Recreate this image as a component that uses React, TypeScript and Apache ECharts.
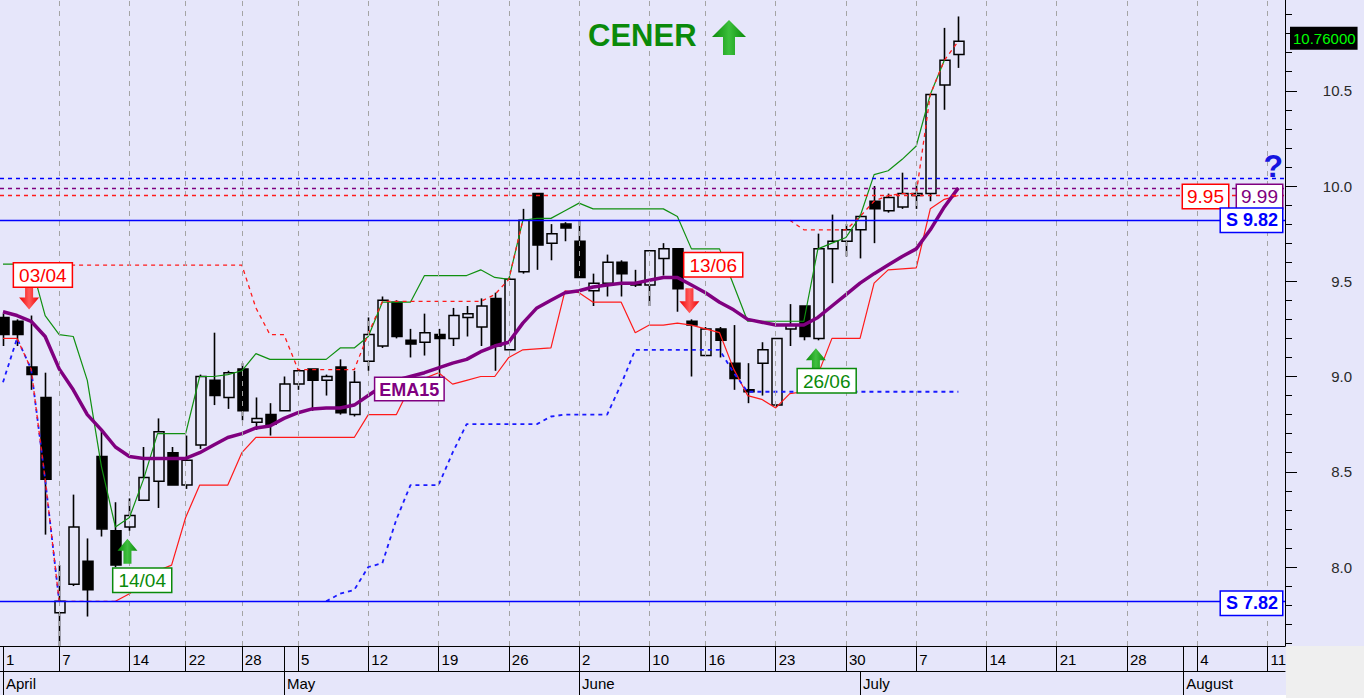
import React, { useEffect, useRef } from 'react';
import * as echarts from 'echarts';

// ---- Daily candles (trading-day index 0 = 1 April) ----
const OPEN = [9.31,9.29,9.05,8.89,7.76,7.91,8.03,8.58,8.19,8.21, 8.35,8.45,8.60,8.43,8.64,8.98,8.89,9.04,8.76,8.80, 8.82,8.96,9.04,8.98,9.05,8.80,9.08,9.16,9.39,9.19, 9.18,9.22,9.20,9.31,9.26,9.41,9.14,9.55,9.96,9.70, 9.80,9.71,9.45,9.49,9.60,9.49,9.48,9.62,9.67,9.29, 9.11,9.25,9.07,8.93,9.07,8.85,9.25,9.37,9.20,9.67, 9.71,9.77,9.92,9.87,9.89,9.95,9.96,10.53,10.69];
const CLOSE = [9.22,9.22,9.01,8.46,7.82,8.21,7.88,8.20,8.01,8.27, 8.47,8.71,8.43,8.56,9.00,8.90,9.02,8.82,8.78,8.75, 8.96,9.03,8.98,9.00,8.81,8.97,9.22,9.40,9.21,9.17, 9.23,9.20,9.32,9.33,9.37,9.16,9.51,9.82,9.69,9.75, 9.78,9.52,9.49,9.60,9.54,9.48,9.66,9.67,9.46,9.27, 9.25,9.19,8.99,8.92,9.14,9.20,9.27,9.21,9.67,9.71, 9.77,9.84,9.88,9.94,9.96,9.96,10.48,10.66,10.76];
const LOW = [9.16,9.16,8.93,8.17,7.58,7.90,7.74,8.16,8.00,8.19, 8.35,8.31,8.43,8.41,8.62,8.85,8.83,8.77,8.72,8.69, 8.82,8.93,8.82,8.90,8.80,8.79,9.03,9.15,9.20,9.10, 9.11,8.98,9.16,9.21,9.16,9.03,9.14,9.54,9.56,9.61, 9.71,9.52,9.37,9.42,9.42,9.47,9.37,9.53,9.34,9.00, 9.11,9.10,8.93,8.86,8.90,8.84,9.16,9.19,9.19,9.49, 9.63,9.62,9.70,9.86,9.88,9.88,9.92,10.40,10.62];
const HIGH = [9.33,9.30,9.32,9.02,8.01,8.38,8.15,8.71,8.34,8.36, 8.63,8.78,8.63,8.69,9.01,9.23,9.03,9.07,8.89,8.86, 9.00,9.04,9.04,9.01,9.09,9.03,9.31,9.42,9.40,9.25, 9.33,9.25,9.36,9.37,9.41,9.44,9.52,9.88,9.96,9.80, 9.81,9.82,9.54,9.64,9.61,9.56,9.66,9.70,9.67,9.30, 9.26,9.26,9.27,9.07,9.18,9.20,9.38,9.37,9.75,9.85, 9.80,9.85,10.00,9.96,10.07,10.02,10.48,10.83,10.89];

// ---- Indicators (segments: start index + values) ----
const EMA15 = [9.34,9.32,9.29,9.21,9.04,8.93,8.80,8.72,8.63,8.58, 8.57,8.57,8.57,8.57,8.60,8.64,8.68,8.70,8.73,8.74, 8.78,8.81,8.83,8.835,8.835,8.85,8.90,8.95,8.98,9.00, 9.02,9.045,9.07,9.09,9.13,9.16,9.18,9.28,9.36,9.40, 9.44,9.45,9.47,9.48,9.49,9.49,9.505,9.52,9.52,9.48, 9.44,9.39,9.35,9.30,9.285,9.27,9.27,9.27,9.31,9.37, 9.43,9.49,9.54,9.585,9.63,9.67,9.77,9.89,9.99];
const GREEN_START = 0;
const GREEN = [9.59,9.59,9.59,9.32,9.22,9.21,8.98,8.53,8.21,8.26, 8.46,8.70,8.70,8.70,9.00,9.00,9.01,9.03,9.12,9.09, 9.09,9.09,9.09,9.09,9.15,9.15,9.21,9.39,9.39,9.39, 9.53,9.53,9.53,9.53,9.56,9.52,9.51,9.82,9.83,9.83, 9.87,9.91,9.88,9.88,9.88,9.88,9.88,9.88,9.84,9.67, 9.67,9.67,9.48,9.29,9.29,9.29,9.29,9.29,9.67,9.70, 9.73,9.84,10.06,10.08,10.14,10.21,10.48,10.66];
const RED_A_START = 0;
const RED_A = [9.20,9.20];
const RED_B_START = 8;
const RED_B = [7.82,7.86, 7.92,7.98,8.01,8.26,8.43,8.43,8.43,8.60,8.68,8.68, 8.68,8.68,8.68,8.68,8.68,8.68,8.80,8.80,8.80,8.95, 8.99,9.02,8.96,8.98,9.00,9.00,9.10,9.14,9.145,9.15, 9.45,9.44,9.39,9.39,9.39,9.23,9.27,9.27,9.28,9.27, 9.25,9.23,9.04,8.90,8.88,8.835,8.91,8.92,9.01,9.20, 9.20,9.20,9.49,9.56,9.565,9.57,9.88,9.93,9.95];
const STOP_HIGH_START = 2;
const STOP_HIGH = [9.585,9.585,9.585,9.585,9.585,9.585,9.585,9.585,9.585,9.585,9.585,9.585,9.585,9.585,9.585,9.585, 9.36,9.22,9.22,9.036,9.036,9.036,9.036,9.036,9.224, 9.394,9.394,9.394,9.394,9.394,9.394,9.394,9.394,9.43,9.51,9.82];
const STOP_DROP_START = 1;
const STOP_DROP = [9.20,9.04,8.46,7.82,7.82,7.82,7.82,7.82];
const STOP_LATE_START = 56;
const STOP_LATE = [9.82,9.77,9.77,9.77,9.77,9.84,9.92,9.95,9.96,9.96,10.48,10.66,10.76];
const BLUE_A_START = 0;
const BLUE_A = [8.97,9.20,9.04,8.46,7.82];
const BLUE_B_START = 23;
const BLUE_B = [7.82,7.86,7.88,8.00,8.02,8.25,8.43,8.43,8.43,8.60,8.75,8.75,8.75,8.75,8.75,8.75, 8.79,8.80,8.80,8.80,8.80,8.96,9.14,9.14,9.14,9.14,9.14,9.14,9.14,9.02,8.92, 8.92,8.92,8.92,8.92,8.92,8.92,8.92,8.92,8.92,8.92,8.92,8.92,8.92,8.92,8.92];

// ---- Horizontal levels ----
const LEVEL_TOP = 10.04;
const LEVEL_PURPLE = 9.99;
const LEVEL_RED = 9.95;
const SUPPORT_HIGH = 9.82;
const SUPPORT_LOW = 7.82;
const LAST_PRICE = 10.76;

// ---- Signals ----
const SIGNAL_IDX = [2, 9, 49, 58];
const SIGNAL_TEXT = ['03/04', '14/04', '13/06', '26/06'];
const SIGNAL_DIR = ['down', 'up', 'down', 'up'];

// ---- Axis ticks / labels ----
const WEEK_TICKS = [0,4,9,13,17,21,26,31,36,41,46,50,55,60,65,70,75,80,85,90];
const WEEK_LABELS = ['1','7','14','22','28','5','12','19','26','2','10','16','23','30','7','14','21','28','4','11'];
const EXTRA_ROW1_TICKS = [20, 84];
const MONTH_TICKS = [0, 20, 41, 61, 84];
const MONTH_LABELS = ['April', 'May', 'June', 'July', 'August'];
const PRICE_TICKS = [8.0, 8.5, 9.0, 9.5, 10.0, 10.5, 11.0];

const X_MIN = -0.2135, X_MAX = 91.246;
const Y_MIN = 7.5853, Y_MAX = 10.9764;
const FONT = "'Liberation Sans', Arial, Helvetica, sans-serif";

const RED = '#ff1a1a';
const GREEN_C = '#109010';
const PURPLE = '#800080';
const BLUE = '#0000ff';

function seg(start: number, vals: number[]) {
  return vals.map((v, k) => [start + k, v]);
}

function lineS(data: number[][], color: string, width: number, type: any, z: number) {
  return {
    type: 'line', data, symbol: 'none', showSymbol: false, silent: true, z,
    lineStyle: { color, width, type }, clip: true,
  };
}

export default function App() {
  const ref = useRef<HTMLDivElement>(null);
  useEffect(() => {
    document.body.style.margin = '0';
    const chart = echarts.init(ref.current as HTMLDivElement, null, { renderer: 'svg' });
    const weekMap: Record<number, string> = {};
    WEEK_TICKS.forEach((t, k) => { weekMap[t] = WEEK_LABELS[k]; });
    const monthMap: Record<number, string> = {};
    MONTH_TICKS.forEach((t, k) => { monthMap[t] = MONTH_LABELS[k]; });
    const minorTicks: number[] = [];
    for (let k = 76; k <= 109; k++) { if (k % 5 !== 0) minorTicks.push(k / 10); }

    const option: any = {
      animation: false,
      backgroundColor: '#e6e6fa',
      grid: { left: 0, right: 79, top: 0, bottom: 52, containLabel: false },
      xAxis: [
        {
          type: 'value', min: X_MIN, max: X_MAX, position: 'bottom',
          axisLine: { show: true, onZero: false, lineStyle: { color: '#000', width: 1 } },
          axisTick: { show: true, customValues: [...WEEK_TICKS, ...EXTRA_ROW1_TICKS], length: 25, lineStyle: { color: '#000', width: 1 } },
          axisLabel: { show: true, customValues: WEEK_TICKS, formatter: (v: number) => weekMap[Math.round(v)] ?? '', align: 'left', margin: 6, padding: [0, 0, 0, 3], color: '#000', fontSize: 15, fontFamily: FONT },
          splitLine: { show: false },
        },
        {
          type: 'value', min: X_MIN, max: X_MAX, position: 'bottom', offset: 25,
          axisLine: { show: true, onZero: false, lineStyle: { color: '#000', width: 1 } },
          axisTick: { show: true, customValues: MONTH_TICKS, length: 24, lineStyle: { color: '#000', width: 1 } },
          axisLabel: { show: true, customValues: MONTH_TICKS, formatter: (v: number) => monthMap[Math.round(v)] ?? '', align: 'left', margin: 5, padding: [0, 0, 0, 3], color: '#000', fontSize: 15, fontFamily: FONT },
          splitLine: { show: false },
        },
      ],
      yAxis: [
        {
          type: 'value', min: Y_MIN, max: Y_MAX, position: 'right',
          axisLine: { show: true, onZero: false, lineStyle: { color: '#000', width: 1 } },
          axisTick: { show: true, customValues: PRICE_TICKS, length: 12, lineStyle: { color: '#000', width: 1 } },
          axisLabel: { show: true, customValues: PRICE_TICKS, formatter: (v: number) => v.toFixed(1), align: 'right', margin: 67, color: '#2a2a2a', fontSize: 15, fontFamily: FONT },
          splitLine: { show: false },
        },
        {
          type: 'value', min: Y_MIN, max: Y_MAX, position: 'right',
          axisLine: { show: false, onZero: false },
          axisTick: { show: true, customValues: minorTicks, length: 7, lineStyle: { color: '#000', width: 1 } },
          axisLabel: { show: false },
          splitLine: { show: false },
        },
      ],
      series: [
        {
          type: 'line', data: [[0, 9]], symbol: 'none', silent: true, z: 1,
          lineStyle: { opacity: 0 },
          markLine: {
            silent: true, symbol: 'none', animation: false, label: { show: false },
            lineStyle: { color: '#a4a4a4', type: [5, 5], width: 1 },
            data: WEEK_TICKS.filter((t) => t > 0).map((t) => ({ xAxis: t })),
          },
        },
        {
          type: 'custom', z: 2, clip: true, silent: true,
          data: OPEN.map((o, i) => [i, o, CLOSE[i], LOW[i], HIGH[i]]),
          encode: { x: 0, y: [1, 2, 3, 4] },
          renderItem: (params: any, api: any) => {
            const i = api.value(0);
            const o = api.value(1), c = api.value(2), l = api.value(3), h = api.value(4);
            const pO = api.coord([i, o]);
            const pC = api.coord([i, c]);
            const pL = api.coord([i, l]);
            const pH = api.coord([i, h]);
            const bw = Math.round(api.size([1, 0])[0] * 0.72);
            const x = Math.round(pO[0]) + 0.5;
            const top = Math.min(pO[1], pC[1]);
            const bot = Math.max(pO[1], pC[1]);
            const bodyH = Math.max(bot - top, 1.5);
            const up = c >= o;
            return {
              type: 'group',
              children: [
                { type: 'line', shape: { x1: x, y1: pH[1], x2: x, y2: top }, style: { stroke: '#000', lineWidth: 1.6 } },
                { type: 'line', shape: { x1: x, y1: bot, x2: x, y2: pL[1] }, style: { stroke: '#000', lineWidth: 1.6 } },
                { type: 'rect', shape: { x: Math.round(x - bw / 2), y: top, width: bw, height: bodyH }, style: { fill: up ? 'rgba(0,0,0,0)' : '#000', stroke: '#000', lineWidth: 1.5 } },
              ],
            };
          },
        },
        lineS(seg(GREEN_START, GREEN), GREEN_C, 1.2, 'solid', 3),
        lineS(seg(RED_A_START, RED_A), RED, 1.2, 'solid', 3),
        lineS(seg(RED_B_START, RED_B), RED, 1.2, 'solid', 3),
        lineS(seg(BLUE_A_START, BLUE_A), '#1a1aff', 1.8, [4, 4], 3),
        lineS(seg(BLUE_B_START, BLUE_B), '#1a1aff', 1.8, [4, 4], 3),
        lineS(seg(STOP_HIGH_START, STOP_HIGH), RED, 1.3, [4, 4], 3),
        lineS(seg(STOP_DROP_START, STOP_DROP), RED, 1.3, [4, 4], 3),
        lineS(seg(STOP_LATE_START, STOP_LATE), RED, 1.3, [4, 4], 3),
        {
          ...lineS(seg(0, EMA15), PURPLE, 3.5, 'solid', 4),
          markLine: {
            silent: true, symbol: 'none', animation: false, label: { show: false },
            data: [
              { yAxis: LEVEL_TOP, lineStyle: { color: BLUE, type: [4, 4], width: 1.3 } },
              { yAxis: LEVEL_PURPLE, lineStyle: { color: PURPLE, type: [4, 4], width: 1.3 } },
              { yAxis: LEVEL_RED, lineStyle: { color: RED, type: [4, 4], width: 1.3 } },
              { yAxis: SUPPORT_HIGH, lineStyle: { color: BLUE, type: 'solid', width: 1.4 } },
              { yAxis: SUPPORT_LOW, lineStyle: { color: BLUE, type: 'solid', width: 1.4 } },
            ],
          },
        },
      ],
    };
    chart.setOption(option);

    const P = (x: number, y: number) => chart.convertToPixel({ seriesIndex: 1 }, [x, y]) as number[];
    const axisX = P(X_MAX, 10)[0];
    const els: any[] = [];

    els.push({ type: 'rect', right: 0, bottom: 0, shape: { width: 78, height: 52 }, style: { fill: '#efefef' }, silent: true });
    els.push({ type: 'rect', left: 0, bottom: 0, shape: { width: axisX + 1, height: 3 }, style: { fill: '#ffffff' }, silent: true });

    const mkText = (text: string, x: number, y: number, align: string, vAlign: string, st: any) => ({
      type: 'text', x, y, silent: true, z: 50,
      style: { text, x: 0, y: 0, align, verticalAlign: vAlign, textAlign: align, textVerticalAlign: vAlign, ...st },
    });
    const grad = (edge: string, mid: string) => ({
      type: 'linear', x: 0, y: 0, x2: 1, y2: 0,
      colorStops: [{ offset: 0, color: edge }, { offset: 0.5, color: mid }, { offset: 1, color: edge }],
    });

    // title
    els.push(mkText('CENER', 588, 20, 'left', 'top', { fill: '#0a8a0a', font: `bold 31px ${FONT}` }));
    els.push({
      type: 'polygon', silent: true, z: 50,
      shape: { points: [[729, 20], [746, 37], [735, 37], [735, 55], [723, 55], [723, 37], [712, 37]] },
      style: { fill: grad('#0a8a0a', '#3cc03c') },
    });

    // signals
    const boxDX = [-15, -14, -5, -18];
    const boxDY = [-46, 30, -60, 21];
    SIGNAL_IDX.forEach((idx, k) => {
      const down = SIGNAL_DIR[k] === 'down';
      const a = P(idx, down ? HIGH[idx] : LOW[idx]);
      const tx = a[0] - 2;
      const ty = down ? a[1] - 6 : a[1] + 8;
      const s = down ? -1 : 1;
      const col = down ? '#ff0000' : '#0a8a0a';
      els.push({
        type: 'polygon', silent: true, z: 50,
        shape: { points: [[tx, ty], [tx + 10, ty + s * 12], [tx + 4, ty + s * 12], [tx + 4, ty + s * 25], [tx - 4, ty + s * 25], [tx - 4, ty + s * 12], [tx - 10, ty + s * 12]] },
        style: { fill: down ? grad('#f00000', '#ff5a5a') : grad('#0a8a0a', '#40c040') },
      });
      els.push(mkText(SIGNAL_TEXT[k], tx + boxDX[k], ty + boxDY[k], 'left', 'top', {
        fill: col, font: `19px ${FONT}`, lineHeight: 20, backgroundColor: '#ffffff', borderColor: col, borderWidth: 1.5, padding: [2, 5, 1, 5],
      }));
    });

    // EMA label
    const e = P(27, EMA15[27]);
    els.push(mkText('EMA15', e[0] - 7, e[1] - 8, 'left', 'top', {
      fill: PURPLE, font: `bold 18px ${FONT}`, lineHeight: 19, backgroundColor: '#ffffff', borderColor: PURPLE, borderWidth: 1.5, padding: [2, 4, 1, 4],
    }));

    // right-side tags
    const yRed = P(X_MAX, LEVEL_RED)[1];
    els.push(mkText(LEVEL_RED.toFixed(2), axisX - 57, yRed + 1, 'right', 'middle', {
      fill: '#ff0000', font: `19px ${FONT}`, lineHeight: 20, backgroundColor: '#ffffff', borderColor: '#ff0000', borderWidth: 1.5, padding: [2, 4, 1, 4],
    }));
    els.push(mkText(LEVEL_PURPLE.toFixed(2), axisX - 3, yRed + 1, 'right', 'middle', {
      fill: PURPLE, font: `19px ${FONT}`, lineHeight: 20, backgroundColor: '#ffffff', borderColor: PURPLE, borderWidth: 1.5, padding: [2, 4, 1, 4],
    }));
    els.push(mkText('S ' + SUPPORT_HIGH.toFixed(2), axisX - 3, P(X_MAX, SUPPORT_HIGH)[1], 'right', 'middle', {
      fill: BLUE, font: `bold 18px ${FONT}`, lineHeight: 20, backgroundColor: '#ffffff', borderColor: BLUE, borderWidth: 1.5, padding: [2, 4, 1, 5],
    }));
    els.push(mkText('S ' + SUPPORT_LOW.toFixed(2), axisX - 3, P(X_MAX, SUPPORT_LOW)[1] + 2, 'right', 'middle', {
      fill: BLUE, font: `bold 18px ${FONT}`, lineHeight: 20, backgroundColor: '#ffffff', borderColor: BLUE, borderWidth: 1.5, padding: [2, 4, 1, 5],
    }));
    els.push(mkText('?', axisX - 2, P(X_MAX, LEVEL_TOP)[1] + 4, 'right', 'bottom', {
      fill: '#1515e0', font: `bold 32px ${FONT}`,
    }));
    els.push(mkText(LAST_PRICE.toFixed(5), axisX + 5, P(X_MAX, LAST_PRICE)[1] - 3, 'left', 'middle', {
      fill: '#00ff00', font: `15px ${FONT}`, lineHeight: 16, backgroundColor: '#000000', padding: [4, 2, 3, 3],
    }));

    chart.setOption({ graphic: { elements: els } });
    return () => chart.dispose();
  }, []);
  return <div ref={ref} style={{ position: 'absolute', left: 0, top: 0, width: 1364, height: 698 }} />;
}
